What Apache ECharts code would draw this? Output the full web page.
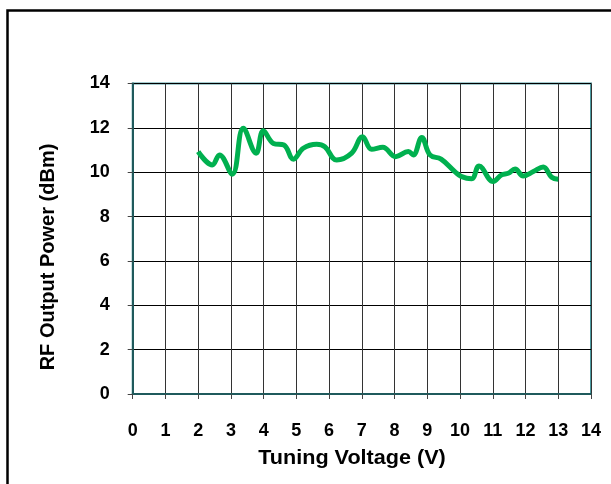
<!DOCTYPE html>
<html>
<head>
<meta charset="utf-8">
<script src="https://cdn.jsdelivr.net/npm/echarts@6/dist/echarts.min.js"></script>
<style>
html,body{margin:0;padding:0;background:#fff;}
#c{width:611px;height:484px;}
</style>
</head>
<body>
<div id="c"></div>
<script>
var voltage = [2.0, 2.43, 2.65, 3.04, 3.38, 3.77, 3.99, 4.3, 4.62, 4.91, 5.21, 5.62, 5.87, 6.23, 6.69, 7.02, 7.3, 7.64, 8.03, 8.42, 8.57, 8.83, 9.08, 9.42, 9.84, 10.05, 10.35, 10.58, 11.01, 11.27, 11.47, 11.68, 11.93, 12.24, 12.54, 12.8, 13.0];
var power = [10.93, 10.33, 10.78, 9.91, 11.98, 10.86, 11.87, 11.3, 11.23, 10.59, 11.08, 11.26, 11.15, 10.55, 10.86, 11.6, 11.03, 11.12, 10.7, 10.93, 10.78, 11.57, 10.78, 10.59, 10.03, 9.8, 9.7, 10.28, 9.58, 9.88, 9.95, 10.14, 9.83, 10.03, 10.23, 9.77, 9.68];
var xTicks = [0,1,2,3,4,5,6,7,8,9,10,11,12,13,14];
var yTicks = [0,2,4,6,8,10,12,14];

var pts = voltage.map(function(v,i){return [v, power[i]];});
var chart = echarts.init(document.getElementById('c'), null, {renderer:'canvas'});
var font = 'Liberation Sans, Arial, sans-serif';
chart.setOption({
  animation:false,
  backgroundColor:'#fff',
  grid:{left:132.7, right:20, top:83.5, bottom:90, show:true, borderColor:'#4a9aa0', borderWidth:2, backgroundColor:'transparent'},
  xAxis:{
    type:'value', min:xTicks[0], max:xTicks[xTicks.length-1], interval:1,
    axisLine:{show:true, lineStyle:{color:'#1f5a5c', width:2}},
    axisTick:{show:true, length:5, lineStyle:{color:'#444'}},
    axisLabel:{color:'#000', fontFamily:font, fontWeight:'bold', fontSize:18, margin:28},
    splitLine:{show:true, lineStyle:{color:'#333', width:1}}
  },
  yAxis:{
    type:'value', min:yTicks[0], max:yTicks[yTicks.length-1], interval:2,
    axisLine:{show:true, lineStyle:{color:'#1f5a5c', width:2}},
    axisTick:{show:true, length:5, lineStyle:{color:'#444'}},
    axisLabel:{color:'#000', fontFamily:font, fontWeight:'bold', fontSize:18, margin:23},
    splitLine:{show:true, lineStyle:{color:'#000', width:1}}
  },
  graphic:[
    {type:'polyline', shape:{points:[[7.5,484],[7.5,10.5],[611,10.5]]}, style:{fill:'none', stroke:'#000', lineWidth:2.5}, z:-1},
    {type:'text', x:352, y:458, scaleX:1.08, style:{text:'Tuning Voltage (V)', font:'bold 20px '+font, fill:'#000', align:'center', verticalAlign:'middle'}},
    {type:'text', x:48, y:257, rotation:Math.PI/2, style:{text:'RF Output Power (dBm)', font:'bold 20px '+font, fill:'#000', align:'center', verticalAlign:'middle'}}
  ],
  series:[{
    type:'line', data:pts, smooth:0.4, showSymbol:false, symbol:'none',
    lineStyle:{color:'#00b04f', width:5}
  }]
});
</script>
</body>
</html>
